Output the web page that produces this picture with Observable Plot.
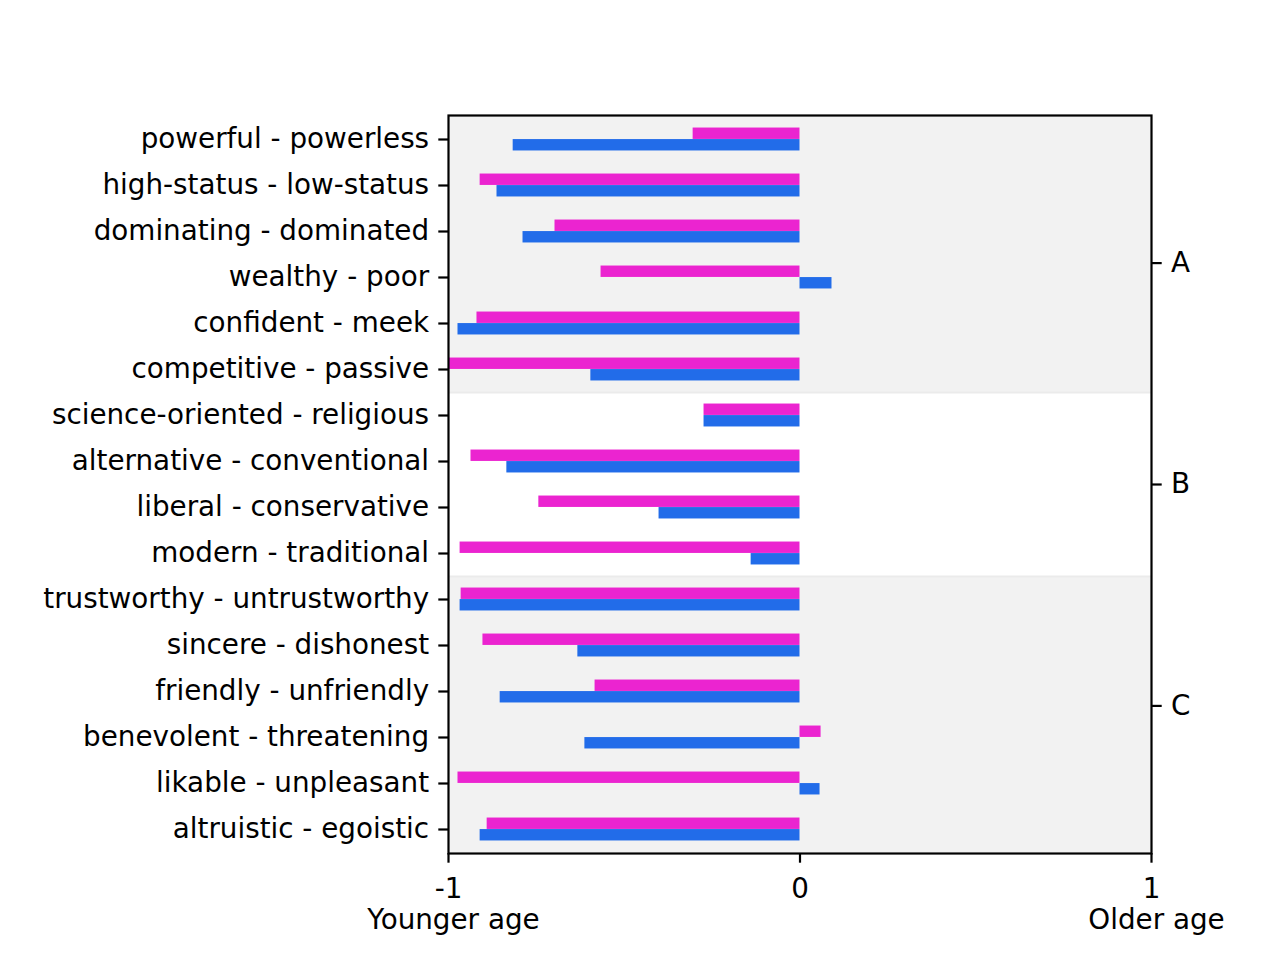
<!DOCTYPE html>
<html><head><meta charset="utf-8">
<script src="https://cdn.jsdelivr.net/npm/d3@7"></script>
<script src="https://cdn.jsdelivr.net/npm/@observablehq/plot@0.6"></script>
<style>
body{margin:0;background:#fff}
#wrap{position:relative;width:1280px;height:960px}
#wrap svg{position:absolute;left:0;top:0}
</style>
</head><body><div id="wrap"></div>
<script>
const traits = [
  "powerful - powerless","high-status - low-status","dominating - dominated","wealthy - poor",
  "confident - meek","competitive - passive","science-oriented - religious","alternative - conventional",
  "liberal - conservative","modern - traditional","trustworthy - untrustworthy","sincere - dishonest",
  "friendly - unfriendly","benevolent - threatening","likable - unpleasant","altruistic - egoistic"
];
const groups = ["A","A","A","A","A","A","B","B","B","B","C","C","C","C","C","C"];
const magentaVals = [-0.304,-0.910,-0.697,-0.566,-0.919,-1.000,-0.273,-0.936,-0.743,-0.967,-0.964,-0.902,-0.583,0.060,-0.973,-0.890];
const blueVals    = [-0.816,-0.862,-0.788,0.091,-0.973,-0.595,-0.273,-0.834,-0.401,-0.139,-0.967,-0.632,-0.853,-0.612,0.057,-0.910];
const xTicks = [-1, 0, 1];
const xEndLabels = ["Younger age", "Older age"];
const groupTicks = [0.8, 0.5, 0.2];
const groupLabels = ["A", "B", "C"];
const shadedGroups = ["A", "C"];
const groupStarts = ["science-oriented - religious", "trustworthy - untrustworthy"];

const W = 1280, H = 960, mL = 448, mR = 129, mT = 115, mB = 107;
const band = (H - mT - mB) / traits.length;
const rows = traits.map((t, i) => ({trait: t, group: groups[i], m: magentaVals[i], b: blueVals[i]}));
const font = {fontFamily: "'DejaVu Sans', sans-serif", fontSize: "27.8px", color: "#000", background: "transparent", overflow: "visible"};

const main = Plot.plot({
  width: W, height: H, marginLeft: mL, marginRight: mR, marginTop: mT, marginBottom: mB,
  style: font,
  x: {domain: [-1, 1]},
  y: {type: "band", domain: traits, padding: 0},
  marks: [
    Plot.barX(rows.filter(r => shadedGroups.includes(r.group)), {y: "trait", x1: -1, x2: 1, fill: "#f2f2f2", shapeRendering: "crispEdges"}),
    Plot.ruleY(groupStarts, {y: d => d, x1: -1, x2: 1, dy: -band / 2, stroke: "#ebebeb", strokeWidth: 2}),
    Plot.barX(rows, {y: "trait", x: "m", fill: "#eb24d0", insetTop: band / 4, insetBottom: band / 2}),
    Plot.barX(rows, {y: "trait", x: "b", fill: "#226ce9", insetTop: band / 2, insetBottom: band / 4}),
    Plot.frame({stroke: "#000", strokeWidth: 2.2}),
    Plot.axisY({tickSize: 9.7, tickPadding: 9.7, strokeWidth: 2.2, label: null}),
    Plot.axisX({ticks: xTicks, tickFormat: d => String(d), tickSize: 9.7, tickPadding: 14.7, strokeWidth: 2.2, label: null}),
    Plot.text(xEndLabels, {x: (d, i) => [xTicks[0], xTicks[2]][i], text: d => d, frameAnchor: "bottom", dy: 75, dx: 5, fill: "#000"})
  ]
});

const right = Plot.plot({
  width: W, height: H, marginLeft: mL, marginRight: mR, marginTop: mT, marginBottom: mB,
  style: font,
  y: {domain: [0, 1]},
  marks: [
    Plot.axisY(groupTicks, {anchor: "right", tickFormat: d => groupLabels[groupTicks.indexOf(d)], tickSize: 9.7, tickPadding: 9.7, strokeWidth: 2.2, label: null})
  ]
});

const wrap = document.getElementById("wrap");
wrap.appendChild(main);
wrap.appendChild(right);
</script>
</body></html>
